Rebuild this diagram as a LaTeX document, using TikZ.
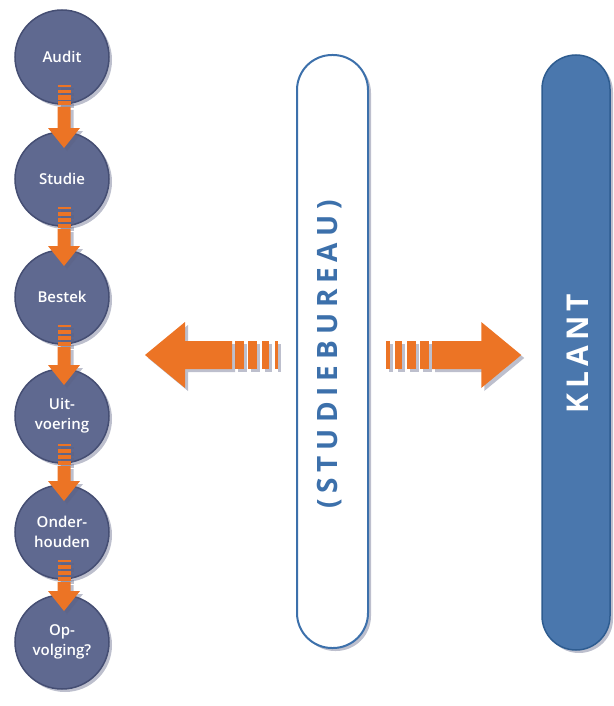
\documentclass[tikz,border=0pt]{standalone}
\usepackage{fontspec}
\setmainfont{Open Sans}
\IfFontExistsTF{Open Sans Bold}{%
  \newfontfamily\sbfont[LetterSpace=21]{Open Sans Bold}%
  \newfontfamily\klfont[LetterSpace=17]{Open Sans Bold}%
}{%
  \newfontfamily\sbfont[LetterSpace=21,FakeBold=2.5]{Open Sans}%
  \newfontfamily\klfont[LetterSpace=17,FakeBold=2.5]{Open Sans}%
}
\IfFontExistsTF{Open Sans Semibold}{%
  \newfontfamily\stfont{Open Sans Semibold}%
}{%
  \newfontfamily\stfont[FakeBold=1]{Open Sans}%
}
\usetikzlibrary{shadows,calc}
\definecolor{circfill}{HTML}{5F6990}
\definecolor{circline}{HTML}{454E73}
\definecolor{arrorange}{HTML}{EC7425}
\definecolor{pillblue}{HTML}{4A77AD}
\definecolor{pillline}{HTML}{2E5C90}
\definecolor{sbblue}{HTML}{3C70AB}
\definecolor{shadowc}{HTML}{5A6082}
\tikzset{
  softshadow/.style={drop shadow={shadow xshift=3pt, shadow yshift=-3pt, opacity=0.4, fill=shadowc}},
  stage/.style={circle, minimum size=94pt, inner sep=0pt, fill=circfill, draw=circline,
    line width=1.5pt, text=white, align=center, font=\stfont\fontsize{15}{20}\selectfont, softshadow},
  arr/.style={fill=arrorange, softshadow},
  pillw/.style={draw=sbblue, line width=2pt, fill=white, rounded corners=35pt,
    minimum width=71pt, minimum height=593pt, inner sep=0pt, softshadow},
  pillb/.style={draw=pillline, line width=1.5pt, fill=pillblue, rounded corners=34pt,
    minimum width=68pt, minimum height=595pt, inner sep=0pt, softshadow}
}
% vertical striped arrow from node #1 to node #2
\newcommand\vstriped[2]{%
  \path ($(#1.center)+(2,28)$) coordinate (vs) ($(#2.center)+(2,-31)$) coordinate (vt);
  \foreach \a/\b in {0/2,5/8.5,10.5/15,16.5/20.5}
    \fill[arr] ($(vs)+(-6.5,\a)$) rectangle ($(vs)+(6.5,\b)$);
  \fill[arr] ($(vs)+(-6.5,22)$) -- ($(vt)+(-6.5,-20)$) -- ($(vt)+(-16,-20)$) -- (vt)
    -- ($(vt)+(16,-20)$) -- ($(vt)+(6.5,-20)$) -- ($(vs)+(6.5,22)$) -- cycle;
}
% horizontal striped arrow: #1 tail, #2 tip, #3 direction (+1 right, -1 left)
\newcommand\hstriped[3]{%
  \foreach \a/\b in {0/3.5,9/16,21/30,34/43}
    \fill[arr] ($(#1)+(#3*\a,-14)$) rectangle ($(#1)+(#3*\b,14)$);
  \fill[arr] ($(#1)+(#3*46,-14)$) -- ($(#2)+(-#3*40,-14)$) -- ($(#2)+(-#3*40,-33)$) -- (#2)
    -- ($(#2)+(-#3*40,33)$) -- ($(#2)+(-#3*40,14)$) -- ($(#1)+(#3*46,14)$) -- cycle;
}
\begin{document}
\begin{tikzpicture}[x=1pt,y=-1pt]
\useasboundingbox (0,0) rectangle (613,706);
% stages
\node[stage] (audit) at (62,57) {Audit};
\node[stage] (studie) at (62,179) {Studie};
\node[stage] (bestek) at (62,297) {Bestek};
\node[stage] (uit) at (62,416) {Uit-\\voering};
\node[stage] (onder) at (62,532) {Onder-\\houden};
\node[stage] (op) at (62,642) {Op-\\volging?};
\vstriped{audit}{studie}
\vstriped{studie}{bestek}
\vstriped{bestek}{uit}
\vstriped{uit}{onder}
\vstriped{onder}{op}
% pills
\node[pillw] (sb) at (332.5,351.5) {};
\node[pillb] (klant) at (576,352.5) {};
\node[rotate=90, text=sbblue, font=\sbfont\fontsize{28}{28}\selectfont] (sblabel) at ($(sb.center)+(-3,3)$) {(STUDIEBUREAU)};
\node[rotate=90, text=white, font=\klfont\fontsize{30}{30}\selectfont] (kllabel) at ($(klant.center)+(2,1)$) {KLANT};
% horizontal arrows
\coordinate (ltail) at ($(sb.west)+(-18,3.5)$);
\coordinate (ltip) at (145,355);
\coordinate (rtail) at ($(sb.east)+(17,3.5)$);
\coordinate (rtip) at ($(klant.west)+(-20,2.5)$);
\hstriped{ltail}{ltip}{-1}
\hstriped{rtail}{rtip}{1}
\end{tikzpicture}
\end{document}
